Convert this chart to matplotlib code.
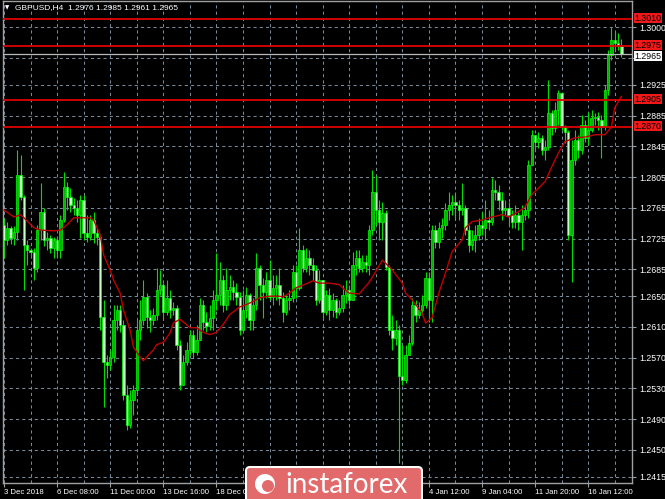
import numpy as np
import matplotlib
matplotlib.use("Agg")
import matplotlib.pyplot as plt
from matplotlib.patches import FancyBboxPatch, Circle
from matplotlib.transforms import blended_transform_factory

# GBPUSD H4 candles (open = previous close)
first_open = 1.2743
close = [
    1.2723, 1.2739, 1.2726, 1.2734, 1.2808, 1.2779, 1.2717, 1.2710, 1.2708, 1.2687,
    1.2736, 1.2760, 1.2723, 1.2726, 1.2713, 1.2723, 1.2710, 1.2749, 1.2792, 1.2779,
    1.2769, 1.2765, 1.2756, 1.2775, 1.2732, 1.2727, 1.2749, 1.2732, 1.2727, 1.2623,
    1.2565, 1.2561, 1.2571, 1.2619, 1.2632, 1.2613, 1.2522, 1.2483, 1.2515, 1.2528,
    1.2606, 1.2619, 1.2649, 1.2623, 1.2619, 1.2626, 1.2658, 1.2665, 1.2630, 1.2648,
    1.2632, 1.2635, 1.2587, 1.2535, 1.2565, 1.2580, 1.2600, 1.2578, 1.2593, 1.2639,
    1.2617, 1.2611, 1.2622, 1.2645, 1.2652, 1.2671, 1.2639, 1.2658, 1.2662, 1.2655,
    1.2649, 1.2606, 1.2632, 1.2652, 1.2619, 1.2639, 1.2687, 1.2665, 1.2655, 1.2671,
    1.2649, 1.2661, 1.2665, 1.2648, 1.2630, 1.2645, 1.2648, 1.2681, 1.2661, 1.2710,
    1.2687, 1.2700, 1.2691, 1.2684, 1.2645, 1.2671, 1.2630, 1.2652, 1.2632, 1.2645,
    1.2630, 1.2635, 1.2652, 1.2658, 1.2645, 1.2691, 1.2700, 1.2687, 1.2695, 1.2691,
    1.2736, 1.2786, 1.2762, 1.2747, 1.2758, 1.2688, 1.2606, 1.2596, 1.2606, 1.2546,
    1.2541, 1.2574, 1.2589, 1.2639, 1.2626, 1.2632, 1.2639, 1.2674, 1.2645, 1.2736,
    1.2720, 1.2739, 1.2743, 1.2762, 1.2769, 1.2773, 1.2769, 1.2762, 1.2765, 1.2736,
    1.2717, 1.2723, 1.2730, 1.2743, 1.2739, 1.2749, 1.2747, 1.2788, 1.2786, 1.2775,
    1.2762, 1.2765, 1.2756, 1.2747, 1.2756, 1.2747, 1.2756, 1.2762, 1.2821, 1.2860,
    1.2851, 1.2856, 1.2840, 1.2844, 1.2888, 1.2869, 1.2892, 1.2914, 1.2870, 1.2863,
    1.2730, 1.2827, 1.2853, 1.2840, 1.2873, 1.2856, 1.2866, 1.2882, 1.2883, 1.2879,
    1.2870, 1.2918, 1.2964, 1.2983, 1.2980, 1.2976, 1.2965,
]
high = [
    1.2752, 1.2747, 1.2741, 1.2741, 1.2840, 1.2834, 1.2782, 1.2723, 1.2713, 1.2713,
    1.2743, 1.2797, 1.2765, 1.2734, 1.2730, 1.2727, 1.2728, 1.2756, 1.2812, 1.2799,
    1.2791, 1.2778, 1.2775, 1.2782, 1.2781, 1.2756, 1.2756, 1.2760, 1.2739, 1.2730,
    1.2645, 1.2574, 1.2580, 1.2639, 1.2639, 1.2639, 1.2619, 1.2535, 1.2528, 1.2535,
    1.2619, 1.2645, 1.2671, 1.2654, 1.2632, 1.2635, 1.2687, 1.2684, 1.2667, 1.2671,
    1.2658, 1.2643, 1.2639, 1.2593, 1.2574, 1.2590, 1.2606, 1.2606, 1.2613, 1.2648,
    1.2645, 1.2630, 1.2639, 1.2658, 1.2706, 1.2695, 1.2678, 1.2687, 1.2678, 1.2671,
    1.2667, 1.2655, 1.2658, 1.2662, 1.2654, 1.2648, 1.2706, 1.2691, 1.2674, 1.2681,
    1.2697, 1.2678, 1.2678, 1.2687, 1.2655, 1.2652, 1.2658, 1.2691, 1.2691, 1.2739,
    1.2717, 1.2713, 1.2710, 1.2700, 1.2691, 1.2684, 1.2671, 1.2658, 1.2661, 1.2654,
    1.2648, 1.2645, 1.2665, 1.2671, 1.2665, 1.2708, 1.2710, 1.2710, 1.2704, 1.2704,
    1.2743, 1.2814, 1.2808, 1.2775, 1.2773, 1.2762, 1.2691, 1.2626, 1.2619, 1.2613,
    1.2587, 1.2587, 1.2600, 1.2648, 1.2645, 1.2643, 1.2652, 1.2681, 1.2681, 1.2743,
    1.2743, 1.2747, 1.2752, 1.2771, 1.2786, 1.2782, 1.2786, 1.2775, 1.2797, 1.2769,
    1.2743, 1.2736, 1.2743, 1.2752, 1.2760, 1.2775, 1.2762, 1.2804, 1.2801, 1.2795,
    1.2786, 1.2775, 1.2773, 1.2762, 1.2769, 1.2760, 1.2769, 1.2769, 1.2827, 1.2866,
    1.2860, 1.2863, 1.2860, 1.2853, 1.2931, 1.2892, 1.2903, 1.2918, 1.2916, 1.2873,
    1.2866, 1.2853, 1.2866, 1.2860, 1.2886, 1.2879, 1.2890, 1.2892, 1.2888, 1.2890,
    1.2886, 1.2925, 1.2970, 1.3000, 1.2994, 1.2992, 1.2985,
]
low = [
    1.2700, 1.2717, 1.2718, 1.2717, 1.2723, 1.2775, 1.2658, 1.2691, 1.2700, 1.2671,
    1.2681, 1.2723, 1.2715, 1.2710, 1.2706, 1.2700, 1.2701, 1.2700, 1.2747, 1.2762,
    1.2760, 1.2756, 1.2747, 1.2726, 1.2723, 1.2720, 1.2723, 1.2719, 1.2717, 1.2606,
    1.2506, 1.2544, 1.2554, 1.2565, 1.2606, 1.2603, 1.2515, 1.2476, 1.2479, 1.2496,
    1.2522, 1.2593, 1.2613, 1.2609, 1.2603, 1.2613, 1.2619, 1.2652, 1.2622, 1.2626,
    1.2622, 1.2626, 1.2580, 1.2528, 1.2535, 1.2561, 1.2574, 1.2570, 1.2574, 1.2593,
    1.2606, 1.2603, 1.2606, 1.2606, 1.2632, 1.2639, 1.2630, 1.2632, 1.2645, 1.2645,
    1.2639, 1.2600, 1.2603, 1.2622, 1.2606, 1.2606, 1.2632, 1.2645, 1.2622, 1.2648,
    1.2645, 1.2639, 1.2645, 1.2639, 1.2617, 1.2626, 1.2632, 1.2643, 1.2648, 1.2658,
    1.2681, 1.2681, 1.2678, 1.2671, 1.2639, 1.2641, 1.2622, 1.2626, 1.2619, 1.2623,
    1.2622, 1.2626, 1.2630, 1.2641, 1.2639, 1.2645, 1.2678, 1.2681, 1.2681, 1.2681,
    1.2678, 1.2730, 1.2743, 1.2723, 1.2723, 1.2684, 1.2600, 1.2580, 1.2587, 1.2433,
    1.2535, 1.2537, 1.2574, 1.2587, 1.2617, 1.2622, 1.2626, 1.2635, 1.2617, 1.2617,
    1.2713, 1.2713, 1.2726, 1.2736, 1.2749, 1.2756, 1.2752, 1.2749, 1.2756, 1.2730,
    1.2708, 1.2710, 1.2708, 1.2723, 1.2730, 1.2723, 1.2736, 1.2743, 1.2775, 1.2762,
    1.2749, 1.2756, 1.2743, 1.2739, 1.2739, 1.2736, 1.2710, 1.2749, 1.2752, 1.2821,
    1.2840, 1.2843, 1.2834, 1.2827, 1.2840, 1.2860, 1.2863, 1.2873, 1.2866, 1.2849,
    1.2723, 1.2668, 1.2821, 1.2830, 1.2835, 1.2851, 1.2847, 1.2863, 1.2873, 1.2866,
    1.2830, 1.2866, 1.2912, 1.2957, 1.2970, 1.2970, 1.2961,
]

# moving average (red curve) read at a number of bars
ma_bar = [0, 3, 5, 6, 9, 11, 15, 17, 19, 21, 26, 27, 29, 30, 32, 33, 35, 36, 38, 39,
          41, 42, 43, 45, 46, 48, 50, 51, 53, 55, 56, 58, 60, 62, 64, 66, 68, 71, 73, 75,
          77, 80, 83, 84, 86, 88, 91, 93, 95, 98, 101, 102, 104, 107, 108, 110, 112, 114,
          117, 120, 121, 123, 126, 127, 129, 131, 133, 135, 138, 139, 141, 144, 146, 148,
          150, 152, 155, 157, 159, 163, 165, 167, 169, 172, 175, 178, 181, 183, 184, 186]
ma_val = [1.2762, 1.2753, 1.2756, 1.2752, 1.2739, 1.2736, 1.2735, 1.2736, 1.2743, 1.2752,
          1.2752, 1.2749, 1.2730, 1.2704, 1.2684, 1.2671, 1.2654, 1.2632, 1.2606, 1.2584,
          1.2571, 1.2566, 1.2571, 1.2580, 1.2587, 1.2590, 1.2602, 1.2615, 1.2620, 1.2613,
          1.2609, 1.2609, 1.2603, 1.2600, 1.2603, 1.2613, 1.2626, 1.2636, 1.2639, 1.2643,
          1.2648, 1.2650, 1.2650, 1.2649, 1.2654, 1.2661, 1.2666, 1.2670, 1.2667, 1.2667,
          1.2665, 1.2661, 1.2654, 1.2653, 1.2658, 1.2668, 1.2682, 1.2697, 1.2684, 1.2667,
          1.2654, 1.2645, 1.2628, 1.2615, 1.2622, 1.2654, 1.2680, 1.2708, 1.2723, 1.2739,
          1.2747, 1.2749, 1.2752, 1.2754, 1.2756, 1.2753, 1.2760, 1.2766, 1.2782, 1.2799,
          1.2818, 1.2836, 1.2851, 1.2856, 1.2857, 1.2860, 1.2860, 1.2870, 1.2895, 1.2910]

levels = [1.3010, 1.2975, 1.2905, 1.2870]
level_labels = ['1.3010', '1.2975', '1.2905', '1.2870']
bid = 1.2965

# the 1.2960 grid label is hidden under the bid price tag
ytick_vals = [1.2415, 1.2450, 1.2490, 1.2530, 1.2570, 1.2610, 1.2650, 1.2685, 1.2725,
              1.2765, 1.2805, 1.2845, 1.2885, 1.2925, 1.2960, 1.3000]
ytick_labels = ['1.2415', '1.2450', '1.2490', '1.2530', '1.2570', '1.2610', '1.2650',
                '1.2685', '1.2725', '1.2765', '1.2805', '1.2845', '1.2885', '1.2925',
                '', '1.3000']
# labels at bars 80, 96, 112 sit under the watermark and are not visible
xtick_bars = [0, 16, 32, 48, 64, 80, 96, 112, 128, 144, 160, 176]
xtick_labels = ['3 Dec 2018', '6 Dec 08:00', '11 Dec 00:00', '13 Dec 16:00', '18 Dec 08:00',
                '', '', '', '4 Jan 12:00', '9 Jan 04:00', '11 Jan 20:00', '16 Jan 12:00']

W, H = 665, 499
plt.rcParams['font.family'] = ['Liberation Sans', 'DejaVu Sans']
fig = plt.figure(figsize=(W / 100, H / 100), dpi=100, facecolor='black')
ax = fig.add_axes([3 / W, 16 / H, 629 / W, 482 / H], facecolor='black')

c = np.array(close)
o = np.array([first_open] + close[:-1])
hi = np.array(high)
lo = np.array(low)
idx = np.arange(len(c))
up = c >= o

# grid
grid_kw = dict(color='#778899', lw=0.75, ls=(0, (3, 3)))
ax.set_yticks(ytick_vals, ytick_labels)
ax.set_xticks(xtick_bars, xtick_labels)
ax.set_xticks(np.arange(8, 188, 8), minor=True)
ax.grid(True, axis='y', **grid_kw)
ax.grid(True, axis='x', which='both', **grid_kw)
ax.set_axisbelow(True)

# candles
ax.vlines(idx, lo, hi, color='#00dd00', lw=0.8, zorder=2)
ax.bar(idx, c - o, bottom=o, width=0.7,
       color=np.where(up, '#00b400', '#c8ffc8'), edgecolor='#00ff00', lw=0.5, zorder=3)

# moving average
ax.plot(ma_bar, ma_val, color='#c00000', lw=1.0, zorder=4)

# horizontal levels and price tags
trans = blended_transform_factory(ax.transAxes, ax.transData)
for lv, lab in zip(levels, level_labels):
    ax.axhline(lv, color='#e00000', lw=1.3, zorder=5)
    ax.annotate(lab, (1.004, lv), xycoords=trans, xytext=(0, 1), textcoords='offset pixels',
                ha='left', va='center', fontsize=6.3, color='black', annotation_clip=False,
                zorder=10, bbox=dict(boxstyle='square,pad=0.06', fc='#f01818', ec='none'))
ax.axhline(bid, color='#b8b8b8', lw=0.9, zorder=5)
ax.annotate('1.2965', (1.004, bid), xycoords=trans, xytext=(0, -2), textcoords='offset pixels',
            ha='left', va='center', fontsize=6.3, color='black', annotation_clip=False,
            zorder=11, bbox=dict(boxstyle='square,pad=0.06', fc='white', ec='none'))

ax.set_xlim(-0.3, 189.2)
ax.set_ylim(1.2407, 1.3034)

ax.yaxis.tick_right()
ax.tick_params(axis='y', colors='#a0a0a0', labelcolor='white', labelsize=6.3,
               length=3, width=0.8, pad=2)
ax.tick_params(axis='x', which='major', colors='#a0a0a0', labelcolor='white',
               labelsize=5.6, length=3, width=0.8, pad=1.5)
ax.tick_params(axis='x', which='minor', length=0)
for lab in ax.get_xticklabels():
    lab.set_horizontalalignment('left')
for sp in ax.spines.values():
    sp.set_color('#a0a0a0')
    sp.set_linewidth(1.0)

# header
fig.text(5 / W, 1 - 8 / H, '\u25bc', color='white', fontsize=4, va='center',
         family='DejaVu Sans')
fig.text(15 / W, 1 - 8 / H, 'GBPUSD,H4  1.2976 1.2985 1.2961 1.2965', color='white',
         fontsize=6.0, va='center')

# watermark logo
lx = fig.add_axes([245 / W, 0, 178 / W, 33 / H])
lx.set_xlim(0, 178)
lx.set_ylim(0, 33)
lx.axis('off')
lx.add_patch(FancyBboxPatch((1, -10), 176, 42, boxstyle='round,pad=0,rounding_size=4',
                            fc='#e36a6a', ec='white', lw=1.5))
lx.add_patch(Circle((20, 15), 10, fc='white', ec='none'))
lx.add_patch(Circle((23, 13), 6, fc='#e36a6a', ec='none'))
lx.text(40, 14, 'instaforex', color='white', fontsize=20, family='Lato', va='center',
        ha='left')

fig.savefig('out.png', dpi=100, facecolor='black')
